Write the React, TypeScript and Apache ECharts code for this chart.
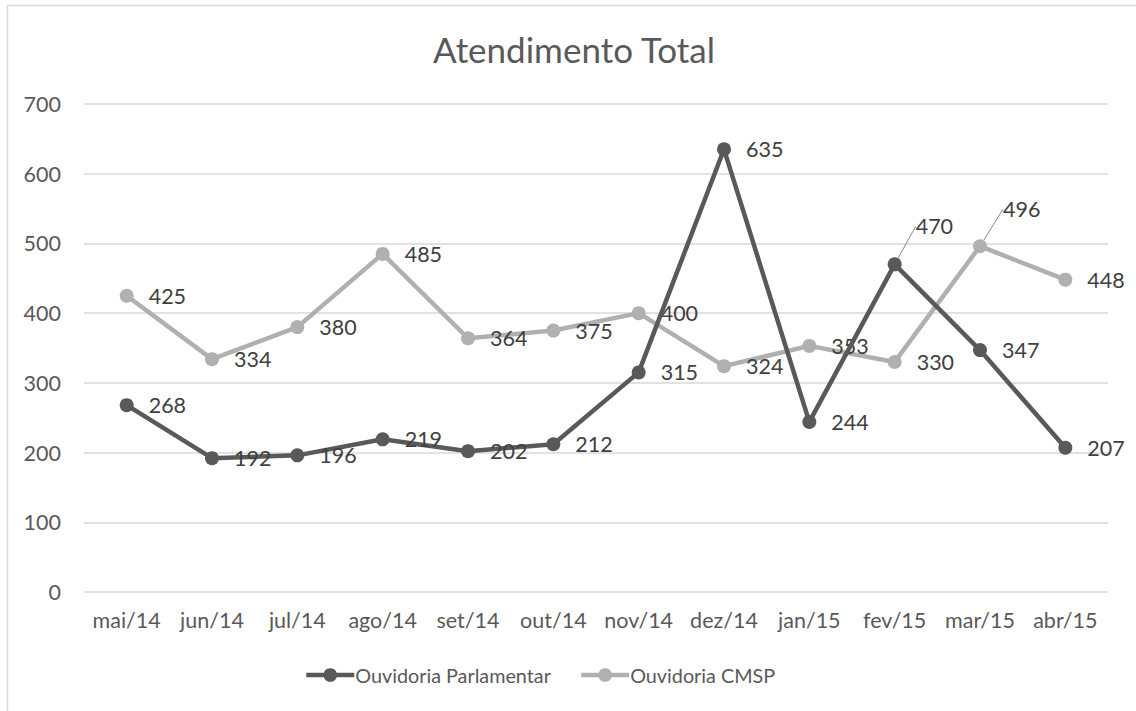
import React, { useEffect, useRef } from "react";
import * as echarts from "echarts";

const categories = ["mai/14", "jun/14", "jul/14", "ago/14", "set/14", "out/14", "nov/14", "dez/14", "jan/15", "fev/15", "mar/15", "abr/15"];
const parlamentar = [268, 192, 196, 219, 202, 212, 315, 635, 244, 470, 347, 207];
const cmsp = [425, 334, 380, 485, 364, 375, 400, 324, 353, 330, 496, 448];
const titleText = "Atendimento Total";
const seriesNames = ["Ouvidoria Parlamentar", "Ouvidoria CMSP"];

const FONT = "Lato, 'Open Sans', sans-serif";
const DARK = "#595959";
const LIGHT = "#b0b0b0";
const FS = 21.5;

export default function App() {
  const ref = useRef<HTMLDivElement>(null);
  useEffect(() => {
    document.body.style.margin = "0";
    const chart = echarts.init(ref.current!, null, { renderer: "svg" });
    const labelCommon = {
      show: true,
      position: "right" as const,
      distance: 15,
      color: "#404040",
      fontSize: FS,
      fontFamily: FONT,
    };
    chart.setOption({
      animation: false,
      backgroundColor: "#ffffff",
      textStyle: { fontFamily: FONT },
      title: {
        text: titleText,
        left: 428,
        top: 26,
        textStyle: { fontSize: 35, fontWeight: "normal", color: DARK, fontFamily: FONT },
      },
      graphic: [
        {
          type: "rect",
          shape: { x: 7.5, y: 5.5, width: 1200, height: 800 },
          style: { fill: "none", stroke: "#d9d9d9", lineWidth: 1.5 },
          silent: true,
        },
      ],
      legend: {
        bottom: 21,
        left: 299,
        itemWidth: 48,
        itemHeight: 17,
        itemGap: 28,
        lineStyle: { width: 4.5 },
        textStyle: { fontSize: 19.8, color: DARK, fontFamily: FONT, padding: [0, 0, 0, -4] },
        data: seriesNames,
      },
      grid: { left: 84, right: 28, top: 104, bottom: 119, containLabel: false },
      xAxis: {
        type: "category",
        data: categories,
        boundaryGap: true,
        axisLine: { show: false },
        axisTick: { show: false },
        axisLabel: { color: DARK, fontSize: FS, fontFamily: FONT, margin: 17, interval: 0 },
      },
      yAxis: {
        type: "value",
        min: 0,
        max: 700,
        interval: 100,
        axisLine: { show: false },
        axisTick: { show: false },
        splitLine: { lineStyle: { color: "#d9d9d9", width: 1.5 } },
        axisLabel: { color: DARK, fontSize: FS, fontFamily: FONT, margin: 23 },
      },
      series: [
        {
          name: seriesNames[1],
          type: "line",
          data: cmsp.map((v, i) =>
            i === 10 ? { value: v, labelLine: { show: true } } : v
          ),
          symbol: "circle",
          symbolSize: 14,
          lineStyle: { color: LIGHT, width: 4.5 },
          itemStyle: { color: LIGHT },
          label: labelCommon,
          labelLine: { show: false, lineStyle: { color: "#8c8c8c", width: 1 } },
          labelLayout: (p: any) => (p.dataIndex === 10 ? { dx: 1, dy: -37 } : {}),
          z: 2,
        },
        {
          name: seriesNames[0],
          type: "line",
          data: parlamentar.map((v, i) =>
            i === 9 ? { value: v, labelLine: { show: true } } : v
          ),
          symbol: "circle",
          symbolSize: 14,
          lineStyle: { color: DARK, width: 4.5 },
          itemStyle: { color: DARK },
          label: labelCommon,
          labelLine: { show: false, lineStyle: { color: "#8c8c8c", width: 1 } },
          labelLayout: (p: any) => (p.dataIndex === 9 ? { dx: -1, dy: -38 } : {}),
          z: 3,
        },
      ],
    });
    return () => chart.dispose();
  }, []);
  return <div ref={ref} style={{ width: 1136, height: 711 }} />;
}
